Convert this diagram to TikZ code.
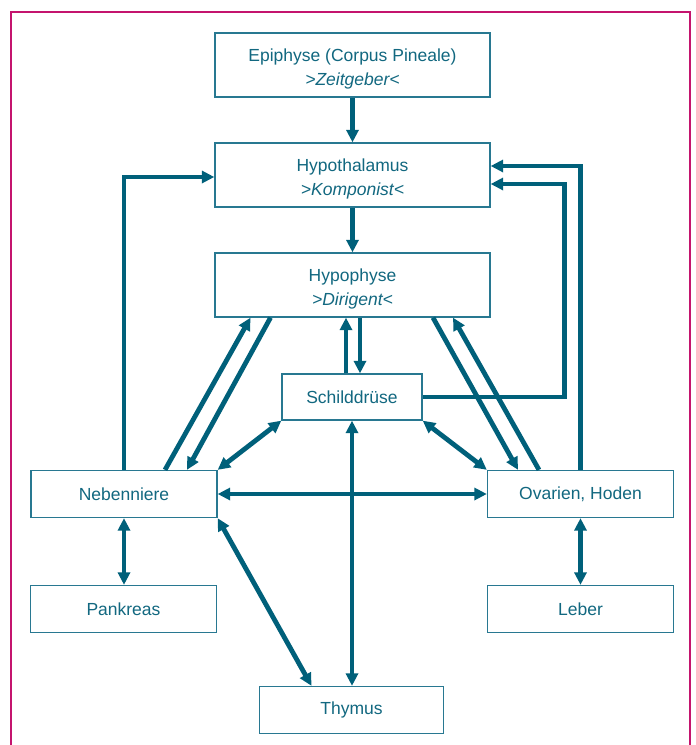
\documentclass[tikz,border=0pt]{standalone}
\usepackage{fontspec}
\setmainfont{Liberation Sans}
\usetikzlibrary{arrows.meta,calc}
\definecolor{lineteal}{RGB}{0,96,122}
\definecolor{txtteal}{RGB}{18,104,128}
\definecolor{bordteal}{RGB}{40,120,145}
\definecolor{framemag}{RGB}{196,20,110}
\newcommand{\twolines}[2]{\raisebox{-3.5pt}[\height][\depth]{\begin{tabular}{@{}c@{}}#1\\#2\end{tabular}}}
\begin{document}
\begin{tikzpicture}[x=1pt,y=-1pt,
  box/.style={draw=bordteal,line width=1.3pt,fill=white,text=txtteal,align=center,inner sep=0pt,
    font=\fontsize{17.5}{24}\selectfont},
  widebox/.style={box,minimum width=275pt,minimum height=64pt},
  smallbox/.style={box,minimum width=186pt,minimum height=47pt},
  conn/.style={draw=lineteal,line width=4.8pt},
  >={Triangle[length=12.5pt,width=12pt]}]
\useasboundingbox (0,0) rectangle (696,745);
\fill[white] (0,0) rectangle (696,745);
\draw[framemag,line width=2.5pt] (11,760) -- (11,12) -- (690,12) -- (690,760);

\node[widebox] (epi) at (352.5,65) {\twolines{Epiphyse (Corpus Pineale)}{\textit{>Zeitgeber<}}};
\node[widebox] (hyt) at (352.5,175) {\twolines{Hypothalamus}{\textit{>Komponist<}}};
\node[widebox] (hyp) at (352.5,285) {\twolines{Hypophyse}{\textit{>Dirigent<}}};
\node[box,minimum width=140pt,minimum height=46pt] (sch) at (352,397) {Schilddrüse};
\node[smallbox] (neb) at (124,494) {Nebenniere};
\node[smallbox] (ova) at (580.5,494) {Ovarien, Hoden};
\node[smallbox] (pan) at (123.5,609) {Pankreas};
\node[smallbox] (leb) at (580.5,609) {Leber};
\node[box,minimum width=184pt,minimum height=47pt] (thy) at (351.5,710) {Thymus};

% vertical chain
\draw[conn,->] (epi.south) -- (hyt.north);
\draw[conn,->] (hyt.south) -- (hyp.north);

% feedback loops to hypothalamus
\draw[conn,->] (neb.north) |- ([yshift=-2pt]hyt.west);
\draw[conn,->] (ova.north) |- ([yshift=9pt]hyt.east);
\draw[conn,->] (sch.east) -- ++(142,0) |- ([yshift=-9pt]hyt.east);

% hypophyse <-> nebenniere
\draw[conn,->] ([xshift=41pt]neb.north) -- ([xshift=-102pt]hyp.south);
\draw[conn,->] ([xshift=-82pt]hyp.south) -- ([xshift=63pt]neb.north);
% hypophyse <-> ovarien
\draw[conn,->] ([xshift=80.5pt]hyp.south) -- ([xshift=-62.5pt]ova.north);
\draw[conn,->] ([xshift=-41.5pt]ova.north) -- ([xshift=100.5pt]hyp.south);
% hypophyse <-> schilddruese
\draw[conn,->] ([xshift=-6pt]sch.north) -- ([xshift=-6.5pt]hyp.south);
\draw[conn,->] ([xshift=7.5pt]hyp.south) -- ([xshift=8pt]sch.north);

% schilddruese links
\draw[conn,<->] (sch.south west) -- (neb.north east);
\draw[conn,<->] (sch.south east) -- (ova.north west);
\draw[conn,<->] (neb.east) -- (ova.west);
\draw[conn,<->] (sch.south) -- (sch.south |- thy.north);
\draw[conn,<->] (neb.south east) -- ([xshift=-40pt]thy.north);
\draw[conn,<->] (neb.south) -- (neb.south |- pan.north);
\draw[conn,<->] (ova.south) -- (leb.north);
\end{tikzpicture}
\end{document}
